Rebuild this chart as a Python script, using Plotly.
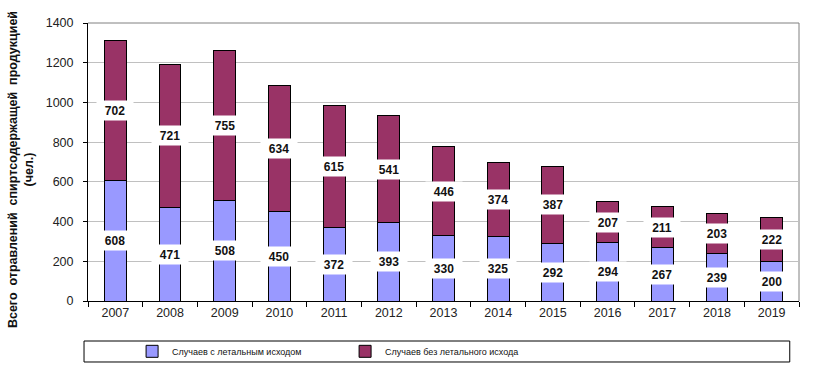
import plotly.graph_objects as go

years = ["2007", "2008", "2009", "2010", "2011", "2012", "2013",
         "2014", "2015", "2016", "2017", "2018", "2019"]
lethal = [608, 471, 508, 450, 372, 393, 330, 325, 292, 294, 267, 239, 200]
nonlethal = [702, 721, 755, 634, 615, 541, 446, 374, 387, 207, 211, 203, 222]

name_lethal = "Случаев с летальным исходом"
name_nonlethal = "Случаев без летального исхода"
y_title = "Всего  отравлений  спиртсодержащей  продукцией<br>(чел.)"
y_ticks = [0, 200, 400, 600, 800, 1000, 1200, 1400]

FONT = "Arial, Liberation Sans, sans-serif"

fig = go.Figure()
fig.add_trace(go.Bar(x=years, y=lethal, name=name_lethal,
                     marker=dict(color="#9999FF", line=dict(color="#000000", width=1)),
                     width=0.4))
fig.add_trace(go.Bar(x=years, y=nonlethal, name=name_nonlethal,
                     marker=dict(color="#993366", line=dict(color="#000000", width=1)),
                     width=0.4))

annotations = []
for i, (a, b) in enumerate(zip(lethal, nonlethal)):
    for val, mid in ((a, a / 2), (b, a + b / 2)):
        annotations.append(dict(
            x=i, y=mid, xref="x", yref="y", text=f"<b>{val}</b>",
            showarrow=False, bgcolor="#FFFFFF", width=34, height=17,
            font=dict(family=FONT, size=12, color="#111111")))

# y-axis title as rotated text
annotations.append(dict(
    x=-0.0942, y=0.471, xref="paper", yref="paper", xanchor="center", yanchor="middle",
    text=f"<b>{y_title}</b>", textangle=-90, showarrow=False,
    font=dict(family=FONT, size=12.5, color="#111111")))

fig.update_layout(
    barmode="stack",
    width=813, height=373,
    margin=dict(l=88, r=14, t=23, b=72, autoexpand=False),
    paper_bgcolor="#FFFFFF", plot_bgcolor="#FFFFFF",
    font=dict(family=FONT, size=12, color="#111111"),
    annotations=annotations,
    showlegend=True,
    legend=dict(orientation="h", x=0.062, xanchor="left", y=-0.181, yanchor="middle",
                font=dict(family=FONT, size=9),
                bgcolor="rgba(0,0,0,0)", borderwidth=0,
                entrywidth=168, entrywidthmode="pixels", traceorder="normal"),
    shapes=[
        dict(type="line", xref="paper", yref="paper", x0=0, x1=1, y0=1, y1=1,
             line=dict(color="#808080", width=1), layer="below"),
        dict(type="line", xref="paper", yref="paper", x0=1, x1=1, y0=0, y1=1,
             line=dict(color="#808080", width=1), layer="below"),
        dict(type="rect", xref="paper", yref="paper", x0=-0.0056, x1=0.987,
             y0=-0.2194, y1=-0.1439, line=dict(color="#000000", width=1),
             fillcolor="rgba(0,0,0,0)"),
    ],
)

fig.update_xaxes(type="category", range=[-0.5, len(years) - 0.5],
                 showline=True, linecolor="#000000", linewidth=1,
                 ticks="outside", tickson="boundaries", ticklen=5, tickcolor="#000000",
                 showgrid=False, tickfont=dict(size=12.5, color="#222222"))
fig.update_yaxes(range=[0, 1400], tickvals=y_ticks, showline=True, linecolor="#000000",
                 linewidth=1, ticks="outside", ticklen=4, tickcolor="#000000",
                 ticklabelstandoff=7,
                 showgrid=True, gridcolor="#C0C0C0", gridwidth=1, zeroline=False,
                 tickfont=dict(size=12.5, color="#222222"))

fig.write_html("out.html", config={"displayModeBar": False},
               post_script="document.body.style.margin='0';")
